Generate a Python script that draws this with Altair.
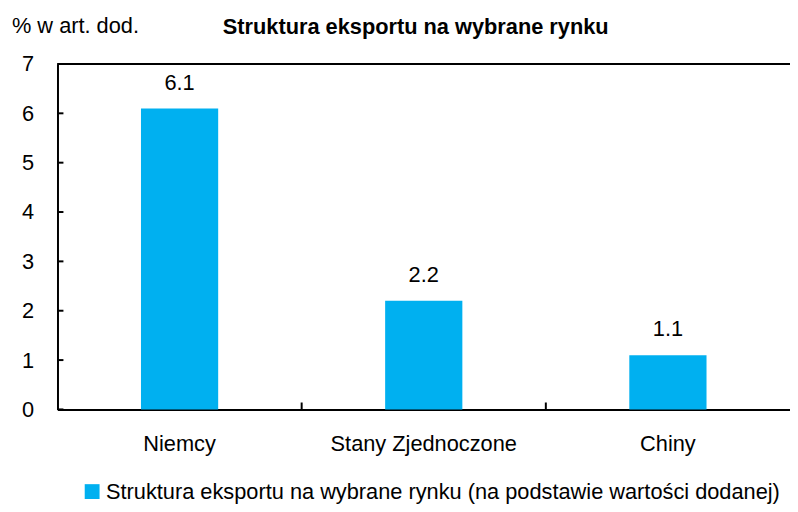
import altair as alt
import pandas as pd

categories = ["Niemcy", "Stany Zjednoczone", "Chiny"]
values = [6.1, 2.2, 1.1]
series_name = "Struktura eksportu na wybrane rynku (na podstawie wartości dodanej)"
y_ticks = [0, 1, 2, 3, 4, 5, 6, 7]
title_text = "Struktura eksportu na wybrane rynku"
unit_text = "% w art. dod."

FONT = "Liberation Sans, Arial, sans-serif"
FS = 22
BLUE = "#00B0F0"
W, H = 740, 349

df = pd.DataFrame({"cat": categories, "val": values, "series": [series_name] * len(categories)})
df_yt = pd.DataFrame({"t": y_ticks})
df_xt = pd.DataFrame({"cat": categories[1:]})
df_title = pd.DataFrame({"t": [title_text]})
df_unit = pd.DataFrame({"t": [unit_text]})

xscale = alt.Scale(domain=categories, paddingInner=0, paddingOuter=0)
yscale = alt.Scale(domain=[0, 7], nice=False)

bars = alt.Chart(df).mark_bar(width=78).encode(
    x=alt.X("cat:N", scale=xscale, sort=categories,
            axis=alt.Axis(title=None, labelAngle=0, ticks=False, tickSize=0, labelPadding=24,
                          labelLimit=400,
                          labelFont=FONT, labelFontSize=FS, labelColor="#000",
                          domainColor="#000", domainWidth=2)),
    y=alt.Y("val:Q", scale=yscale,
            axis=alt.Axis(values=y_ticks, grid=False, ticks=False, tickSize=0, labelPadding=24,
                          labelFont=FONT, labelFontSize=FS, labelColor="#000",
                          domainColor="#000", domainWidth=2, title=None)),
    color=alt.Color("series:N", scale=alt.Scale(domain=[series_name], range=[BLUE]),
                    legend=alt.Legend(title=None, orient="none", legendX=24, legendY=421,
                                      symbolType="square", symbolSize=225, symbolStrokeWidth=0,
                                      labelFont=FONT, labelFontSize=FS, labelColor="#000",
                                      labelLimit=1000, labelOffset=3, padding=0)),
)

labels = alt.Chart(df).mark_text(font=FONT, fontSize=FS, color="#000", baseline="alphabetic", dy=-19).encode(
    x=alt.X("cat:N", scale=xscale, sort=categories),
    y=alt.Y("val:Q", scale=yscale),
    text=alt.Text("val:Q", format=".1f"),
)

yticks = alt.Chart(df_yt).mark_rule(color="#000", strokeWidth=2).encode(
    y=alt.Y("t:Q", scale=yscale),
    x=alt.value(0),
    x2=alt.value(6),
)

xticks = alt.Chart(df_xt).mark_rule(color="#000", strokeWidth=2).encode(
    x=alt.X("cat:N", scale=xscale, sort=categories, bandPosition=0),
    y=alt.value(H),
    y2=alt.value(H - 7),
)

top_line = alt.Chart(df_xt).mark_rule(color="#000", strokeWidth=2).encode(
    x=alt.value(0), x2=alt.value(W + 10), y=alt.value(0)
)

title_mark = alt.Chart(df_title).mark_text(font=FONT, fontSize=FS, fontWeight="bold", color="#000",
                                           align="left", baseline="alphabetic").encode(
    x=alt.value(167), y=alt.value(-30), text="t:N"
)

unit_mark = alt.Chart(df_unit).mark_text(font=FONT, fontSize=FS, color="#000",
                                         align="left", baseline="alphabetic").encode(
    x=alt.value(-46), y=alt.value(-31), text="t:N"
)

chart = alt.layer(bars, labels, yticks, xticks, top_line, title_mark, unit_mark).properties(
    width=W, height=H,
    autosize=alt.AutoSizeParams(type="none"),
    padding={"left": 50, "top": 54, "right": 0, "bottom": 93},
).configure_view(stroke=None).configure(background="white")

chart.save("out.html", embed_options={"renderer": "svg", "actions": False})
